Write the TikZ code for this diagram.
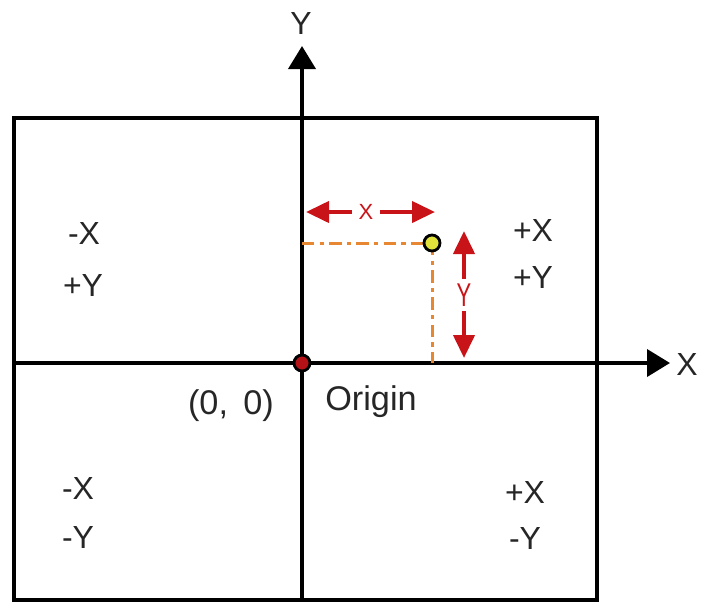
\documentclass[tikz,border=0pt]{standalone}
\usepackage{fontspec}
\setmainfont{Liberation Sans}
\usetikzlibrary{arrows.meta}

\definecolor{markred}{RGB}{200,20,25}
\definecolor{guideorange}{RGB}{232,135,50}
\definecolor{pointyellow}{RGB}{225,225,60}

\begin{document}
\begin{tikzpicture}[x=0.02cm, y=-0.02cm,
    axis/.style={line width=2.2pt, -{Triangle[length=0.46cm, width=0.54cm]}},
    frame/.style={line width=1.9pt},
    guide/.style={guideorange, line width=1.7pt, dash pattern=on 7pt off 3pt on 2.5pt off 3pt},
    span/.style={markred, line width=2.3pt, -{Triangle[length=0.46cm, width=0.42cm]}},
    lab/.style={font=\fontsize{18.2}{20}\selectfont, text=black!85},
    spanlab/.style={font=\fontsize{12.5}{14}\selectfont, text=markred, inner sep=3.5pt}]
      \useasboundingbox (0,0) rectangle (702,603);
      % quadrant frame
      \draw[frame] (14,118) rectangle (597,600);
      % axes
      \coordinate (xstart) at (13,363);
      \coordinate (xend) at (670,363);
      \coordinate (ystart) at (302,600);
      \coordinate (yend) at (302,46);
      \draw[axis] (xstart) -- (xend);
      \draw[axis] (ystart) -- (yend);
      \node[lab] (xname) at (687,364) {X};
      \node[lab] (yname) at (301,23) {Y};
      % point and its guides
      \coordinate (origin) at (302,363);
      \coordinate (pt) at (432,243);
      \coordinate (ptonx) at (432,363);
      \coordinate (ptony) at (302,243);
      \draw[guide] (ptony) -- (pt);
      \draw[guide] (pt) -- (ptonx);
      \fill[markred!90!black, draw=black, line width=1.6pt] (origin) circle (8);
      \fill[pointyellow, draw=black, line width=1.6pt] (pt) circle (8);
      % distance marks
      \node[spanlab] (xmark) at (366,212) {X};
      \node[spanlab, inner sep=2.5pt] (ymark) at (464,295) {\scalebox{1}[1.5]{Y}};
      \draw[span] (xmark.west) -- (306,212);
      \draw[span] (xmark.east) -- (435,212);
      \draw[span] (ymark.north) -- (464,231);
      \draw[span] (ymark.south) -- (464,358);
      % labels
      \node[lab, font=\fontsize{19.5}{21}\selectfont] (origlab) at (231,406) {(0,\hspace{0.45em}0)};
      \node[lab, font=\fontsize{19.5}{21}\selectfont, text depth=0pt] (orignm) at (371,398) {Origin};
      \node[lab] (q2x) at (84,233) {-X};
      \node[lab] (q2y) at (83,285) {+Y};
      \node[lab] (q1x) at (533,230) {+X};
      \node[lab] (q1y) at (533,277) {+Y};
      \node[lab] (q3x) at (78,488) {-X};
      \node[lab] (q3y) at (78,537) {-Y};
      \node[lab] (q4x) at (525,492) {+X};
      \node[lab] (q4y) at (525,538) {-Y};
    \end{tikzpicture}
\end{document}
